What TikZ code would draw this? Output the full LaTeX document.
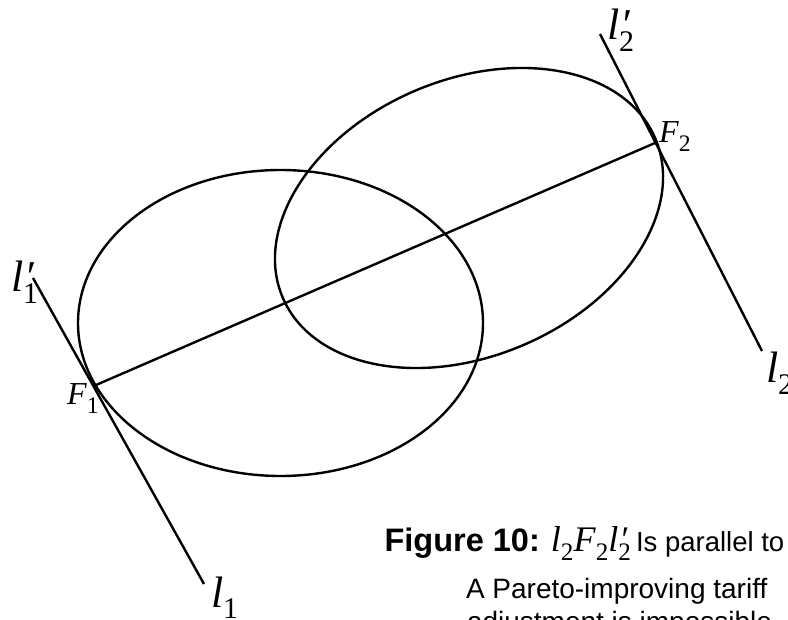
\documentclass[tikz,border=0pt]{standalone}
\usepackage{fontspec}
\setmainfont{Liberation Serif}
\newfontfamily\arialf{Liberation Sans}
\usepackage{graphicx}
\newcommand{\Sb}[2][0.68]{\raisebox{-0.27em}{\scalebox{#1}{\upshape #2}}}
\newcommand{\Prm}{\rlap{\kern0.03em\itshape ′}}
\tikzset{
  curve/.style={line width=2.4pt},
  lbl/.style={inner sep=0pt, outer sep=0pt, anchor=base west, font=\fontsize{44}{44}\selectfont},
  flbl/.style={inner sep=0pt, outer sep=0pt, anchor=base west, font=\fontsize{32}{32}\selectfont},
  captxt/.style={inner sep=0pt, outer sep=0pt, anchor=base west, font=\arialf\fontsize{28}{28}\selectfont}
}
\begin{document}
\begin{tikzpicture}[x=1pt,y=-1pt]
\useasboundingbox (0,0) rectangle (788,620);
% key points
\coordinate (F1) at (96,385);
\coordinate (F2) at (655,143);
\coordinate (l1top) at (33,278);
\coordinate (l1bot) at (204,584);
\coordinate (l2top) at (600,34);
\coordinate (l2bot) at (762,351);
% ellipses
\draw[curve] (280.5,323) ellipse [x radius=202.5pt, y radius=153pt];
\draw[curve, rotate around={23.2:(469,218)}] (469,218) ellipse [x radius=202.6pt, y radius=138.2pt];
% lines
\draw[curve] (F1) -- (F2);
\draw[curve] (l1top) -- (l1bot);
\draw[curve] (l2top) -- (l2bot);
% labels
\node[lbl] (L1p) at (11,292) {\textit{l}\Prm\Sb{1}};
\node[lbl] (L1) at (211,607) {\textit{l}\Sb{1}};
\node[lbl] (L2p) at (607,40) {\textit{l}\Prm\Sb{2}};
\node[lbl] (L2) at (766,383) {\textit{l}\Sb{2}};
\node[flbl] (LF1) at (67,405) {\textit{F}\Sb[0.74]{1}};
\node[flbl] (LF2) at (659,143) {\textit{F}\Sb[0.74]{2}};
% caption
\node[captxt] (cap1) at (384.6,551) {{\bfseries\fontsize{32.5}{32.5}\selectfont Figure 10:}\hspace{11pt}{\rmfamily\fontsize{36}{36}\selectfont\textit{l}\Sb[0.7]{2}\textit{F}\Sb[0.7]{2}\textit{l}\Prm\Sb[0.7]{2}}\hspace{5pt}{\fontsize{27.5}{27.5}\selectfont Is parallel to}};
\node[captxt] (cap2) at (466,598) {A Pareto-improving tariff};
\node[captxt] (cap3) at (467,631) {adjustment is impossible};
\end{tikzpicture}
\end{document}
